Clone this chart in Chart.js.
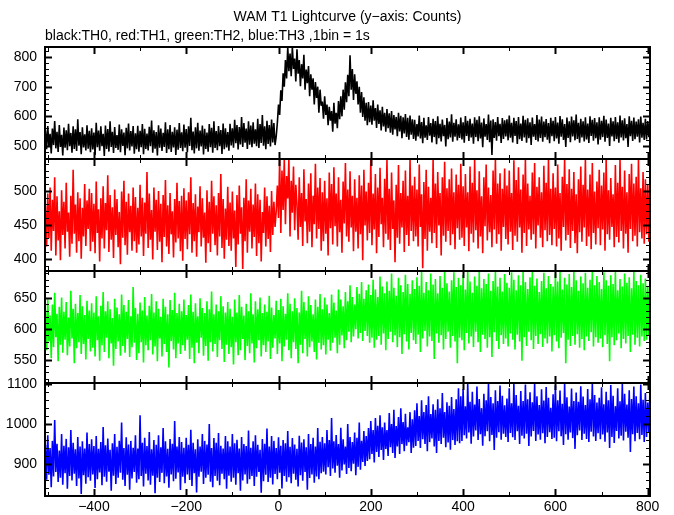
<!DOCTYPE html>
<html><head><meta charset="utf-8">
<script src="https://cdn.jsdelivr.net/npm/chart.js@4"></script>
<style>
html,body{margin:0;padding:0;background:#fff;}
#wrap{position:relative;width:674px;height:515px;}
#wrap canvas{position:absolute;left:0;top:0;}
</style></head><body>
<div id="wrap">
<canvas id="c0" width="674" height="515"></canvas>
<canvas id="c1" width="674" height="515"></canvas>
<canvas id="c2" width="674" height="515"></canvas>
<canvas id="c3" width="674" height="515"></canvas>
</div>
<script>
const titleText = 'WAM T1 Lightcurve (y\u2212axis: Counts)';
const subtitleText = 'black:TH0, red:TH1, green:TH2, blue:TH3 ,1bin = 1s';

// time of first listed sample and spacing of the listed samples (s)
const tStart = -505, tStep = 2.5;
const xTicks = [-400, -200, 0, 200, 400, 600, 800];

// TH0 (black)
const th0 = [
552,489,567,498,541,475,559,503,584,492,
548,480,571,497,538,468,562,494,553,486,
575,499,544,477,566,490,556,483,590,501,
547,472,563,495,539,485,570,491,551,479,
560,488,545,470,578,496,552,484,566,499,
541,466,569,490,557,481,583,497,548,476,
564,493,537,487,572,479,556,500,545,469,
561,492,576,485,550,498,567,474,543,489,
568,481,551,496,574,472,558,490,542,485,
565,499,586,477,553,491,547,468,570,494,
559,483,544,497,580,476,556,489,571,480,
548,495,563,470,555,487,577,493,546,482,
572,494,557,479,566,500,595,486,549,475,
563,492,578,484,552,498,569,471,558,490,
545,481,574,496,561,477,583,493,550,486,
567,499,554,473,576,489,560,495,547,484,
575,502,560,494,588,509,571,488,564,505,
598,497,577,511,559,490,583,504,569,496,
580,508,556,499,592,493,574,510,604,501,
566,489,585,507,571,498,589,512,577,503,
532,578,640,605,688,652,745,700,790,728,
834,752,812,735,834,760,795,718,826,744,
790,702,776,728,808,690,758,712,770,668,
742,690,728,640,716,662,700,612,690,636,
650,592,668,605,640,570,632,585,618,548,
646,575,612,560,652,590,668,600,690,622,
715,648,740,668,806,690,760,655,742,676,
718,640,700,612,682,598,664,585,646,570,
648,580,636,572,654,585,628,561,640,574,
620,552,632,566,612,548,625,560,610,545,
618,538,604,556,598,533,612,549,602,526,
597,542,608,530,595,521,603,538,590,524,
588,518,574,532,603,525,581,509,595,528,
570,520,598,535,577,512,592,530,584,506,
600,526,575,515,589,533,571,498,594,523,
582,529,607,514,578,531,590,519,573,527,
596,522,580,511,601,534,585,517,592,529,
576,508,597,530,588,516,600,525,579,496,
593,531,574,520,606,513,586,470,590,527,
581,518,598,533,575,510,594,524,587,532,
590,519,603,528,578,512,595,534,584,507,
598,523,576,517,602,529,588,511,593,526,
580,503,596,531,574,520,604,515,589,527,
599,514,582,530,591,521,577,509,595,533,
585,516,598,525,579,508,601,531,590,520,
574,497,596,527,583,513,599,532,587,519,
606,524,578,511,592,529,583,515,597,522,
576,510,600,534,588,518,594,526,580,505,
597,521,585,530,602,514,589,527,576,500,
595,532,583,516,598,524,580,511,603,529,
587,519,593,526,574,497,600,533,585,517,
596,523,582,531,590,512,599,528,578,520,
592,522,584,530,598];

// TH1 (red)
const th1 = [
478,418,496,430,505,412,487,441,520,405,
492,427,470,398,501,435,484,415,512,440,
468,403,493,422,531,437,480,409,498,426,
489,400,475,433,510,419,486,444,503,411,
497,425,481,408,514,438,473,396,489,430,
507,415,482,442,523,410,494,428,476,401,
502,435,488,417,469,392,499,431,515,420,
484,406,496,439,478,412,505,426,491,409,
475,421,509,433,490,404,483,437,528,416,
496,428,472,399,505,440,487,413,500,425,
481,395,494,432,516,418,479,407,497,436,
470,402,488,424,512,430,485,411,493,397,
504,429,486,414,498,436,520,409,482,426,
495,403,477,439,507,418,489,431,468,394,
501,423,484,410,515,437,492,420,479,405,
497,433,525,416,488,400,474,428,506,419,
483,412,499,430,471,388,494,421,508,437,
476,385,490,426,517,409,486,440,503,415,
480,432,511,404,495,423,487,396,469,438,
505,418,492,429,478,410,500,435,484,447,
470,508,460,547,438,530,472,547,451,522,
489,547,433,515,468,536,442,509,480,428,
520,447,497,419,532,455,488,423,511,440,
526,417,493,451,540,430,505,444,519,412,
498,426,515,437,489,405,527,445,510,421,
535,448,496,418,520,439,487,409,514,452,
541,433,502,425,529,446,493,411,517,440,
490,415,523,436,508,398,531,449,499,427,
512,438,547,420,496,443,525,408,505,432,
534,451,490,417,518,437,547,428,503,413,
527,444,486,395,509,431,538,422,497,446,
515,410,530,435,493,419,547,441,508,426,
521,433,502,418,539,447,495,386,513,429,
531,412,506,440,490,423,547,438,511,416,
528,449,497,405,520,434,543,425,504,441,
517,420,533,436,498,414,524,445,509,428,
540,431,507,419,525,446,498,411,536,437,
512,424,547,442,501,415,529,433,492,408,
520,448,539,427,505,439,494,417,530,443,
547,422,511,436,526,412,503,447,533,429,
508,421,530,440,497,413,545,434,516,425,
535,446,502,409,524,438,547,419,511,443,
493,428,527,436,541,415,506,449,520,431,
498,417,537,442,512,426,547,435,503,420,
526,444,505,418,539,430,497,412,521,447,
547,427,510,435,532,416,503,441,528,423,
495,408,517,439,536,425,509,446,547,419,
502,433,524,414,541,438,499,421,514,445,
531,420,508,443,527,412,547,436,501,428,
519,447,495,417,538,432,512,424,547,441,
506,415,530,437,498,409,525,444,540,426,
511,434,521,418,547,439,504,430,528,422,
517,436,509,425,531];

// TH2 (green)
const th2 = [
631,566,648,580,622,553,640,571,659,587,
625,548,636,575,651,562,628,583,644,558,
619,572,662,585,633,545,641,569,626,579,
655,560,637,576,623,551,646,584,630,564,
642,570,627,556,653,582,621,549,638,574,
660,563,629,586,645,553,632,577,618,541,
649,568,635,580,624,557,656,573,639,562,
628,584,647,555,621,571,668,578,634,550,
625,561,643,579,630,546,652,574,622,566,
638,582,657,559,627,572,645,548,633,585,
620,556,649,576,636,563,624,538,647,581,
631,567,659,553,626,577,641,560,629,574,
648,565,623,583,639,552,656,570,628,545,
642,578,621,561,650,586,634,557,626,573,
645,549,632,579,661,564,624,576,640,555,
629,582,653,568,637,547,627,575,644,560,
633,571,620,543,648,579,627,558,655,566,
636,584,622,550,641,573,629,561,658,577,
624,546,645,569,632,582,651,556,626,574,
640,563,628,580,654,552,635,570,623,585,
646,560,631,577,649,548,637,572,625,583,
658,566,641,553,629,579,650,568,634,545,
627,575,662,561,644,584,630,556,653,571,
639,580,624,563,648,551,636,578,657,567,
632,574,651,559,640,583,626,565,656,578,
643,586,630,561,664,575,648,590,637,569,
660,582,645,596,671,579,652,588,640,600,
668,585,657,594,676,581,649,597,663,589,
672,578,655,586,680,570,664,583,652,589,
685,575,669,593,658,566,677,584,662,596,
690,579,667,590,654,571,683,587,671,560,
660,592,688,580,673,567,657,594,679,582,
665,576,684,591,670,563,694,585,659,597,
676,572,663,588,690,581,672,552,681,593,
658,578,686,590,667,567,694,584,674,596,
661,570,679,589,692,580,668,545,683,586,
671,582,688,566,664,594,694,577,677,588,
659,571,685,596,670,579,694,563,666,591,
681,584,673,570,690,587,662,555,678,595,
694,581,669,568,683,590,661,576,689,585,
675,572,667,593,692,583,680,567,663,591,
687,580,671,549,694,587,676,573,665,596,
684,582,694,568,670,589,682,576,660,592,
678,571,691,585,666,577,686,588,673,564,
669,590,690,580,677,569,694,586,664,594,
683,545,672,583,689,573,668,589,694,575,
679,592,662,570,685,584,674,566,691,588,
667,581,680,595,694,572,671,587,686,578,
676,585,665,571,692,590,679,576,670,548,
687,587,673,574,694,582,663,593,681,569,
669,584,690,577,675,589,684,563,666,591,
694,575,678,586,671,572,688,588,674,581,
682,583,669,589,690];

// TH3 (blue)
const th3 = [
948,861,972,873,940,842,958,869,1010,880,
951,855,934,866,975,848,946,877,963,838,
942,870,985,859,953,876,937,845,968,864,
944,825,957,872,939,851,979,867,950,858,
962,874,945,840,970,862,938,879,955,847,
993,868,947,856,964,881,936,833,952,871,
975,850,943,866,958,878,1004,861,940,845,
967,873,949,836,958,864,941,880,972,853,
939,862,1022,870,953,844,966,876,945,859,
980,848,937,871,960,827,948,866,972,855,
942,878,990,852,957,869,938,841,963,874,
951,857,1008,863,944,879,968,835,955,868,
941,852,966,874,948,860,986,845,953,877,
937,829,962,868,944,881,975,850,958,866,
949,873,1000,856,940,842,965,870,953,858,
978,847,946,876,939,862,970,838,957,871,
944,856,975,866,952,848,961,877,939,833,
968,859,950,874,945,851,984,862,941,870,
957,845,972,868,948,880,936,828,963,857,
951,873,989,855,944,866,970,849,958,875,
940,862,967,878,946,839,960,870,952,856,
983,867,943,852,965,876,949,861,938,844,
971,872,954,858,962,880,942,836,975,865,
950,874,966,853,944,869,990,862,956,877,
968,881,952,874,985,892,960,870,1015,889,
957,878,973,896,950,866,991,884,962,899,
944,875,1000,890,968,882,955,901,979,872,
966,893,1004,886,958,905,983,895,970,908,
990,912,1008,925,985,904,1015,930,996,918,
1022,935,992,910,1004,938,985,920,1028,942,
1000,928,1036,915,995,944,1018,925,1040,950,
1005,932,1026,946,992,955,1030,928,1012,941,
1035,945,1052,958,1020,940,1060,962,1030,950,
1048,932,1070,955,1025,964,1050,944,1036,928,
1062,958,1040,950,1078,966,1030,942,1055,954,
1046,936,1068,960,1038,948,1062,957,1090,952,
1070,958,1088,972,1045,964,1102,979,1056,951,
1081,969,1049,984,1094,960,1063,975,1040,946,
1076,970,1060,982,1102,957,1068,973,1052,935,
1085,966,1058,980,1097,961,1071,976,1047,968,
1064,955,1090,978,1052,967,1102,960,1073,982,
1046,950,1083,971,1058,964,1099,976,1062,945,
1080,969,1055,983,1102,958,1070,974,1048,961,
1087,977,1059,952,1093,968,1066,980,1041,963,
1075,966,1097,957,1060,982,1084,970,1051,948,
1102,975,1067,961,1044,979,1089,965,1058,938,
1079,972,1056,984,1095,960,1069,976,1048,963,
1088,955,1062,981,1102,969,1073,958,1054,977,
1066,962,1092,974,1050,956,1081,979,1060,940,
1098,968,1071,953,1045,983,1090,964,1057,971,
1102,959,1076,981,1049,966,1085,930,1063,975,
1094,957,1070,978,1052,962,1099,973,1061,955,
1078,968,1054,980,1092];

const yTicks0 = [500, 600, 700, 800];
const yTicks1 = [400, 450, 500];
const yTicks2 = [550, 600, 650];
const yTicks3 = [900, 1000, 1100];

const FONT = "'Liberation Sans', Arial, Helvetica, sans-serif";
const W = 674, H = 515;
const xMin = -506, xMax = 805;

const panels = [
  {series: th0, color: '#000000', yMin: 456, yMax: 834, ticks: yTicks0, minor: 20, top: 47, bottom: 159},
  {series: th1, color: '#ff0000', yMin: 382, yMax: 547, ticks: yTicks1, minor: 10, top: 159, bottom: 271},
  {series: th2, color: '#00ff00', yMin: 513, yMax: 694, ticks: yTicks2, minor: 10, top: 271, bottom: 383},
  {series: th3, color: '#0000ff', yMin: 820, yMax: 1103, ticks: yTicks3, minor: 20, top: 383, bottom: 496}
];

function fmt(v) { return v < 0 ? '\u2212' + Math.abs(v) : String(v); }

function framePlugin(p) {
  return {
    id: 'frame',
    afterDatasetsDraw(chart) {
      const ctx = chart.ctx, a = chart.chartArea;
      const xs = chart.scales.x, ys = chart.scales.y;
      ctx.save();
      ctx.strokeStyle = '#000';
      const seg = (x1, y1, x2, y2, w) => {
        ctx.lineWidth = w; ctx.beginPath(); ctx.moveTo(x1, y1); ctx.lineTo(x2, y2); ctx.stroke();
      };
      for (let v = -500; v <= 800; v += 100) {
        const px = Math.round(xs.getPixelForValue(v)) + 0.5;
        const major = xTicks.includes(v);
        const L = major ? 7 : 4, w = major ? 2 : 1;
        seg(px, a.top, px, a.top + L, w);
        seg(px, a.bottom, px, a.bottom - L, w);
      }
      const start = Math.ceil(p.yMin / p.minor) * p.minor;
      for (let v = start; v <= p.yMax; v += p.minor) {
        const py = Math.round(ys.getPixelForValue(v)) + 0.5;
        const major = p.ticks.includes(v);
        const L = major ? 7 : 4, w = major ? 2 : 1;
        seg(a.left, py, a.left + L, py, w);
        seg(a.right, py, a.right - L, py, w);
      }
      ctx.lineWidth = 2;
      ctx.strokeRect(a.left, a.top, a.right - a.left, a.bottom - a.top);
      ctx.restore();
    }
  };
}

panels.forEach((p, i) => {
  const pts = p.series.map((v, k) => ({x: tStart + k * tStep, y: v}));
  const isFirst = i === 0, isLast = i === panels.length - 1;
  new Chart(document.getElementById('c' + i), {
    type: 'line',
    data: {datasets: [{
      data: pts, borderColor: p.color, borderWidth: 1.6, borderJoinStyle: 'bevel', pointRadius: 0,
      tension: 0, fill: false, clip: 0
    }]},
    options: {
      responsive: false, animation: false, devicePixelRatio: 1, events: [],
      layout: {padding: {left: 0, right: 24, top: isFirst ? 0 : p.top, bottom: isLast ? 0 : H - p.bottom}},
      plugins: {
        legend: {display: false}, tooltip: {enabled: false},
        title: {display: isFirst, text: titleText, fullSize: false, align: 'center', color: '#000',
          font: {family: FONT, size: 14, weight: 'normal'}, padding: {top: 9, bottom: 2}},
        subtitle: {display: isFirst, text: subtitleText, fullSize: false, align: 'start', color: '#000',
          font: {family: FONT, size: 14, weight: 'normal'}, padding: {top: 0, bottom: 2.4}}
      },
      scales: {
        x: {
          type: 'linear', min: xMin, max: xMax, display: isLast,
          grid: {display: false, drawTicks: false}, border: {display: false},
          afterBuildTicks: s => { s.ticks = xTicks.map(v => ({value: v})); },
          afterFit: s => { s.height = isLast ? 19 : 0; },
          ticks: {padding: 3, color: '#000', font: {family: FONT, size: 14}, callback: fmt, maxRotation: 0, autoSkip: false}
        },
        y: {
          type: 'linear', min: p.yMin, max: p.yMax,
          grid: {display: false, drawTicks: false}, border: {display: false},
          afterBuildTicks: s => { s.ticks = p.ticks.map(v => ({value: v})); },
          afterFit: s => { s.width = 45; },
          ticks: {padding: 8, color: '#000', font: {family: FONT, size: 14}, callback: fmt, autoSkip: false}
        }
      }
    },
    plugins: [framePlugin(p)]
  });
});
</script>
</body></html>
